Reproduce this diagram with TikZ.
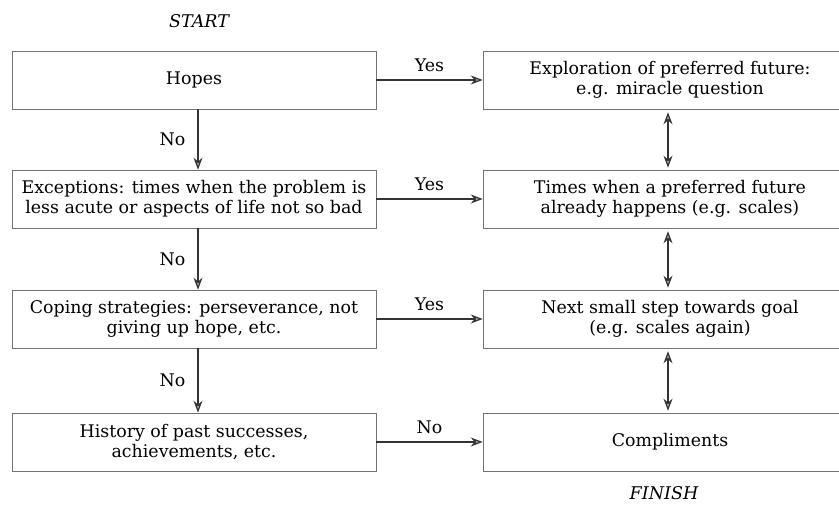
\documentclass[tikz,border=0pt]{standalone}
\usepackage{fontspec}
\setmainfont{DejaVu Serif}
\usetikzlibrary{arrows.meta}
\begin{document}
\begin{tikzpicture}[x=1pt,y=-1pt,
  txt/.style={font=\fontsize{17.4}{20}\selectfont},
  boxl/.style={draw=black!55, line width=0.6pt, minimum width=364pt, minimum height=58pt, inner sep=0pt, align=center, txt},
  boxr/.style={draw=black!55, line width=0.6pt, minimum width=374pt, minimum height=58pt, inner sep=0pt, align=center, txt},
  flow/.style={draw=black!80, line width=1.2pt, -{Stealth[length=12pt,width=9pt,fill=black!35]}},
  both/.style={draw=black!80, line width=1.2pt, {Stealth[length=12pt,width=9pt,fill=black!35]}-{Stealth[length=12pt,width=9pt,fill=black!35]}},
  lab/.style={txt, inner sep=0pt},
  ends/.style={font=\fontsize{17.5}{20}\selectfont\itshape}
]
\useasboundingbox (0,0) rectangle (839,510);
\node[ends] (start) at (199,21) {START};
\node[ends] (finish) at (664,493) {FINISH};

\node[boxl] (hopes) at (194,80) {Hopes};
\node[boxl] (exc) at (194,199) {Exceptions: times when the problem is\\less acute or aspects of life not so bad};
\node[boxl] (cope) at (194,319) {Coping strategies: perseverance, not\\giving up hope, etc.};
\node[boxl] (hist) at (194,442) {History of past successes,\\achievements, etc.};

\node[boxr] (expl) at (670,80) {Exploration of preferred future:\\e.g. miracle question};
\node[boxr] (times) at (670,199) {Times when a preferred future\\already happens (e.g. scales)};
\node[boxr] (next) at (670,319) {Next small step towards goal\\(e.g. scales again)};
\node[boxr] (comp) at (670,442) {Compliments};

\draw[flow] (hopes) -- node[lab, above=8pt] {Yes} (expl);
\draw[flow] (exc) -- node[lab, above=8pt] {Yes} (times);
\draw[flow] (cope) -- node[lab, above=8pt] {Yes} (next);
\draw[flow] (hist) -- node[lab, above=8pt] {No} (comp);

\draw[flow] ([xshift=4pt]hopes.south) -- node[lab, left=12pt] {No} ([xshift=4pt]exc.north);
\draw[flow] ([xshift=4pt]exc.south) -- node[lab, left=12pt] {No} ([xshift=4pt]cope.north);
\draw[flow] ([xshift=4pt]cope.south) -- node[lab, left=12pt] {No} ([xshift=4pt]hist.north);

\draw[both] ([yshift=-3pt,xshift=-2pt]expl.south) -- ([yshift=2pt,xshift=-2pt]times.north);
\draw[both] ([yshift=-3pt,xshift=-2pt]times.south) -- ([yshift=2pt,xshift=-2pt]next.north);
\draw[both] ([yshift=-3pt,xshift=-2pt]next.south) -- ([yshift=2pt,xshift=-2pt]comp.north);
\end{tikzpicture}
\end{document}
